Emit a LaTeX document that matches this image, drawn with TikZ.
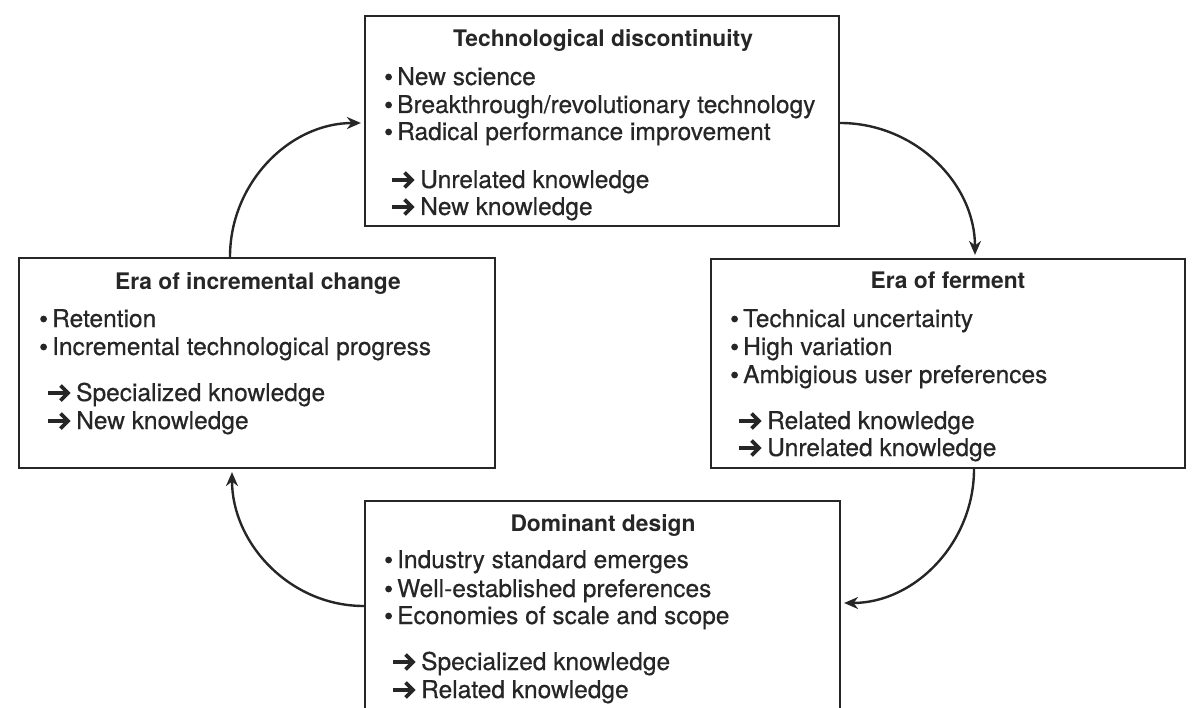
\documentclass[tikz,border=0pt]{standalone}
\usepackage{fontspec}
\setmainfont{TeX Gyre Heros}
\newfontfamily\itemfont[FakeBold=0.5]{TeX Gyre Heros}
\usetikzlibrary{arrows.meta}
\definecolor{ink}{HTML}{262626}
\tikzset{
  box/.style={draw=ink, line width=2.2pt, rectangle, inner sep=0pt},
  ttl/.style={anchor=base, inner sep=0pt, text=ink, font=\fontsize{22.8}{27}\selectfont\bfseries},
  itm/.style={anchor=base west, inner sep=0pt, text=ink, font=\itemfont\fontsize{24.5}{27}\selectfont},
  flow/.style={draw=ink, line width=2.4pt, -{Stealth[length=14pt, width=12pt]}, shorten >=3pt},
}
% bullet and knowledge-arrow markers
\newcommand{\bulletdot}{\tikz[x=1pt, y=1pt, baseline=0pt]{
    \path (0,0) (12,0);
    \fill[ink] (2.2,8) circle[radius=3.4pt];}}
\newcommand{\bul}[1]{\makebox[12pt][l]{\bulletdot}#1}
\newcommand{\knowarrow}{\tikz[x=1pt, y=1pt, baseline=0pt, line width=3.6pt, draw=ink]{
    \path (0,0) (22,0);
    \draw[line cap=butt] (0,8) -- (19,8);
    \draw[line join=miter, line cap=butt] (12.5,15.5) -- (20,8) -- (12.5,0.5);}}
\newcommand{\arr}[1]{\makebox[30pt][l]{\knowarrow}#1}
\begin{document}
\begin{tikzpicture}[x=1pt, y=-1pt]
  \useasboundingbox (0,0) rectangle (1196,708);
  \clip (0,0) rectangle (1196,708);

  % the four stages of the technology cycle
  \node[box, minimum width=474pt, minimum height=210pt] (T) at (602,121) {};
  \node[box, minimum width=474pt, minimum height=209pt] (R) at (948,363.5) {};
  \node[box, minimum width=476pt, minimum height=210pt] (L) at (257,363) {};
  \node[box, minimum width=475pt, minimum height=219pt] (B) at (602.5,610.5) {};

  % technological discontinuity
  \node[ttl] (t0) at (603,47) {Technological discontinuity};
  \node[itm] (t1) at (385,85) {\bul{New science}};
  \node[itm] (t2) at (385,113) {\bul{Breakthrough/revolutionary technology}};
  \node[itm] (t3) at (385,140) {\bul{Radical performance improvement}};
  \node[itm] (t4) at (390,188) {\arr{Unrelated knowledge}};
  \node[itm] (t5) at (390,215) {\arr{New knowledge}};

  % era of ferment
  \node[ttl] (r0) at (948,289) {Era of ferment};
  \node[itm] (r1) at (731,327) {\bul{Technical uncertainty}};
  \node[itm] (r2) at (731,355) {\bul{High variation}};
  \node[itm] (r3) at (731,383) {\bul{Ambigious user preferences}};
  \node[itm] (r4) at (737,429) {\arr{Related knowledge}};
  \node[itm] (r5) at (737,456) {\arr{Unrelated knowledge}};

  % era of incremental change
  \node[ttl] (l0) at (258,290) {Era of incremental change};
  \node[itm] (l1) at (40,327) {\bul{Retention}};
  \node[itm] (l2) at (40,355) {\bul{Incremental technological progress}};
  \node[itm] (l3) at (46,401) {\arr{Specialized knowledge}};
  \node[itm] (l4) at (46,429) {\arr{New knowledge}};

  % dominant design
  \node[ttl] (b0) at (603,531) {Dominant design};
  \node[itm] (b1) at (385,568) {\bul{Industry standard emerges}};
  \node[itm] (b2) at (385,597) {\bul{Well-established preferences}};
  \node[itm] (b3) at (385,624) {\bul{Economies of scale and scope}};
  \node[itm] (b4) at (391,670) {\arr{Specialized knowledge}};
  \node[itm] (b5) at (391,698) {\arr{Related knowledge}};

  % cycle connectors
  \draw[flow] ([yshift=-2pt]T.east) to[out=0, in=90] ([xshift=27pt]R.north);
  \draw[flow] ([xshift=26pt]R.south) to[out=-90, in=0] ([yshift=7.5pt]B.east);
  \draw[flow] ([yshift=4.5pt]B.west) to[out=180, in=-90] ([xshift=-25pt]L.south);
  \draw[flow] ([xshift=-27pt]L.north) to[out=90, in=180] ([yshift=-2pt]T.west);
\end{tikzpicture}
\end{document}
